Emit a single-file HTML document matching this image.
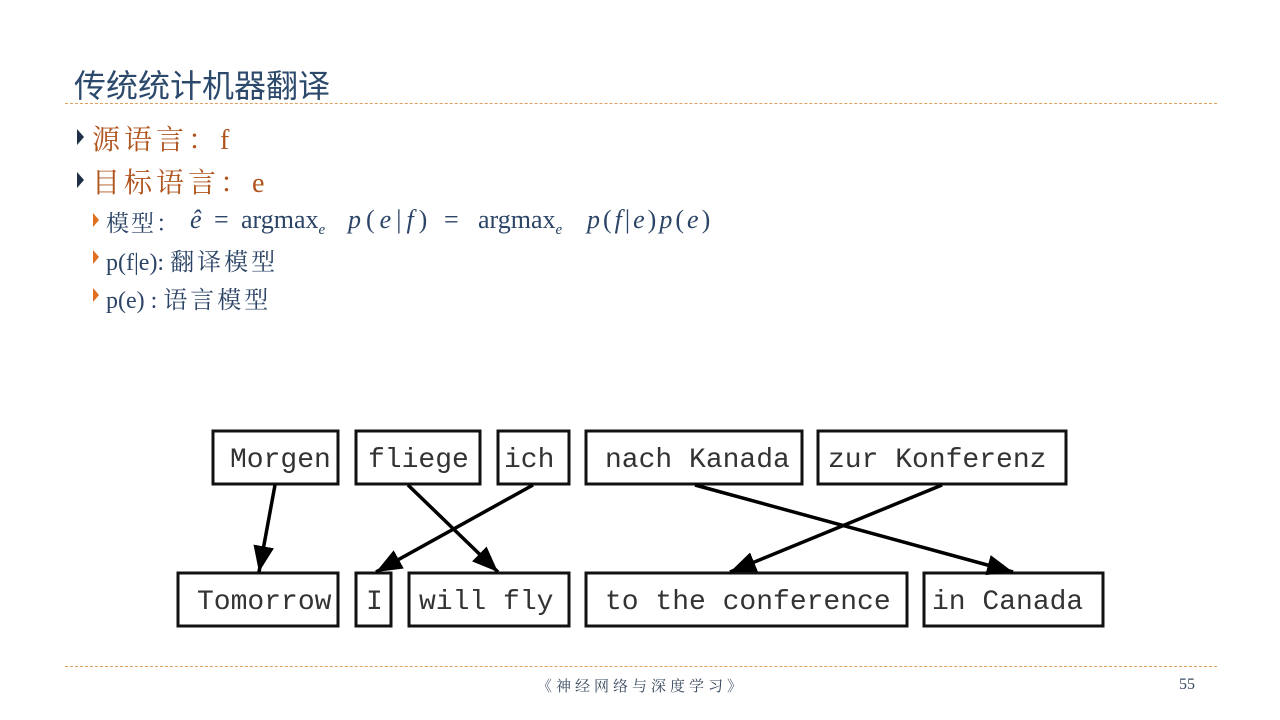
<!DOCTYPE html>
<html><head><meta charset="utf-8"><style>
body{margin:0;width:1280px;height:720px;background:#fff;overflow:hidden;position:relative;font-family:"Liberation Serif","Noto Serif CJK SC",serif}
.a{position:absolute;white-space:nowrap}
.m{position:absolute;white-space:nowrap;top:205px;font-size:26px;color:#2c4566}
</style></head><body>
<div class="a" style="left:74px;top:61px;font-family:'Liberation Sans','Noto Sans CJK SC',sans-serif;font-size:32px;color:#2d4a6d">传统统计机器翻译</div>
<div class="a" style="left:65px;top:103px;width:1152px;border-top:1px dashed #e0a060"></div>
<div class="a" style="left:65px;top:666px;width:1152px;border-top:1px dashed #e0a060"></div>
<svg class="a" style="left:0;top:0" width="1280" height="720">
<polygon points="77,129 84,137 77,145" fill="#1f2f45"/>
<polygon points="77,172 84,180 77,188" fill="#1f2f45"/>
<polygon points="93,213 99,220 93,227" fill="#e07020"/>
<polygon points="93,250 99,257 93,264" fill="#e07020"/>
<polygon points="93,288 99,295 93,302" fill="#e07020"/>
</svg>
<div class="a" style="left:92px;top:118px;font-size:28px;color:#b0541d;letter-spacing:4px">源语言：f</div>
<div class="a" style="left:92px;top:161px;font-size:28px;color:#b0541d;letter-spacing:4px">目标语言：e</div>
<div class="a" style="left:106px;top:205px;font-size:23px;color:#2c4566;letter-spacing:2px">模型：</div>
<div class="m" style="left:190px"><i>ê</i></div>
<div class="m" style="left:214px">=</div>
<div class="m" style="left:241px">argmax<sub style="font-size:15px"><i>e</i></sub></div>
<div class="m" style="left:348px;letter-spacing:5px"><i>p</i>(<i>e</i>|<i>f</i>)</div>
<div class="m" style="left:444px">=</div>
<div class="m" style="left:478px">argmax<sub style="font-size:15px"><i>e</i></sub></div>
<div class="m" style="left:587px;letter-spacing:3px"><i>p</i>(<i>f</i>|<i>e</i>)<i>p</i>(<i>e</i>)</div>
<div class="a" style="left:106px;top:242px;font-size:24px;color:#2c4566">p(f|e): <span style="letter-spacing:3px">翻译模型</span></div>
<div class="a" style="left:106px;top:280px;font-size:24px;color:#2c4566">p(e) : <span style="letter-spacing:3px">语言模型</span></div>
<div class="a" style="left:537px;top:675px;font-size:15px;color:#3a4a60;letter-spacing:4px">《神经网络与深度学习》</div>
<div class="a" style="left:1179px;top:676px;font-size:16px;color:#3a4a60">55</div>
<svg class="a" style="left:0;top:0" width="1280" height="720" font-family="Liberation Mono, monospace" font-size="28">
<defs>
<marker id="h" viewBox="0 0 20 20" refX="20" refY="10" markerWidth="26" markerHeight="26" orient="auto" markerUnits="userSpaceOnUse"><path d="M0,2 L20,10 L0,18z" fill="#000"/></marker></defs>
<g fill="#fff" stroke="#111" stroke-width="3">
<rect x="213" y="431" width="125" height="53"/><rect x="356" y="431" width="124" height="53"/><rect x="498" y="431" width="71" height="53"/><rect x="586" y="431" width="216" height="53"/><rect x="818" y="431" width="248" height="53"/>
<rect x="178" y="573" width="160" height="53"/><rect x="356" y="573" width="35" height="53"/><rect x="409" y="573" width="160" height="53"/><rect x="586" y="573" width="321" height="53"/><rect x="924" y="573" width="179" height="53"/>
</g>
<g fill="#333">
<text x="230" y="467">Morgen</text><text x="368" y="467">fliege</text><text x="504" y="467">ich</text><text x="605" y="467">nach Kanada</text><text x="828" y="467">zur Konferenz</text>
<text x="197" y="609">Tomorrow</text><text x="366" y="609">I</text><text x="419" y="609">will fly</text><text x="605" y="609">to the conference</text><text x="932" y="609">in Canada</text>
</g>
<g stroke="#000" stroke-width="3.5" marker-end="url(#h)">
<line x1="275" y1="485" x2="259" y2="572"/><line x1="408" y1="485" x2="498" y2="572"/><line x1="533" y1="485" x2="376" y2="572"/><line x1="695" y1="485" x2="1013" y2="572"/><line x1="942" y1="485" x2="730" y2="572"/>
</g>
</svg>
</body></html>
